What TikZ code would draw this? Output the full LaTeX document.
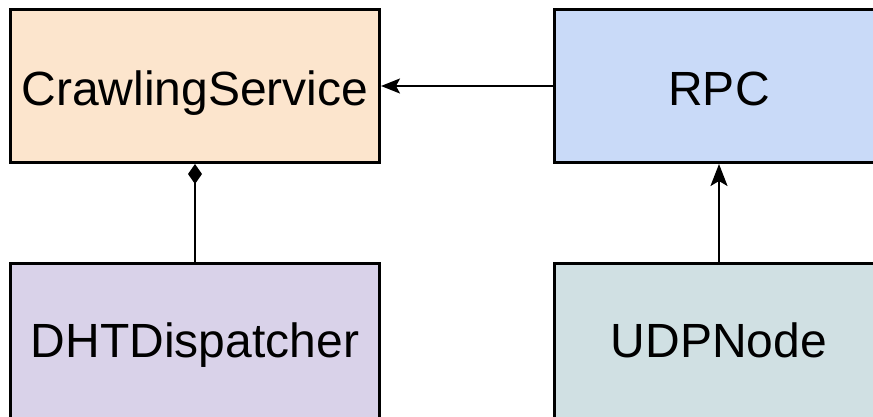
\documentclass[tikz,border=0pt]{standalone}
\usepackage{fontspec}
\setmainfont{Liberation Sans}
\usetikzlibrary{arrows.meta}
\definecolor{peach}{HTML}{FCE5CD}
\definecolor{skyblue}{HTML}{C9DAF8}
\definecolor{lilac}{HTML}{D9D2E9}
\definecolor{greyteal}{HTML}{D0E0E3}
\begin{document}
\begin{tikzpicture}[x=1pt,y=-1pt,
  cls/.style={draw, line width=3pt, rectangle, inner sep=0pt, text depth=0pt,
    font=\fontsize{48}{56}\selectfont},
  toprow/.style={cls, minimum height=153pt, text height=38pt},
  botrow/.style={cls, minimum height=158pt, text height=30pt},
  link/.style={line width=2.2pt}]
\useasboundingbox (0,0) rectangle (873,416);
\clip (0,0) rectangle (873,416);
% top row
\node[toprow, fill=peach, minimum width=369pt] (crawl) at (195,86) {CrawlingService};
\node[toprow, fill=skyblue, minimum width=329pt] (rpc) at (719,86) {RPC};
% bottom row
\node[botrow, fill=lilac, minimum width=369pt] (dht) at (195,342.5) {DHTDispatcher};
\node[botrow, fill=greyteal, minimum width=329pt] (udp) at (719,342.5) {UDPNode};
% links
\draw[link, -{Stealth[length=19pt,width=15pt,inset=4pt]}] (rpc.west) -- (crawl.east);
\draw[link, -{Diamond[length=20pt,width=14pt]}] (dht.north) -- (crawl.south);
\draw[link, -{Stealth[length=22pt,width=17pt,inset=5pt]}] (udp.north) -- (rpc.south);
\end{tikzpicture}
\end{document}
